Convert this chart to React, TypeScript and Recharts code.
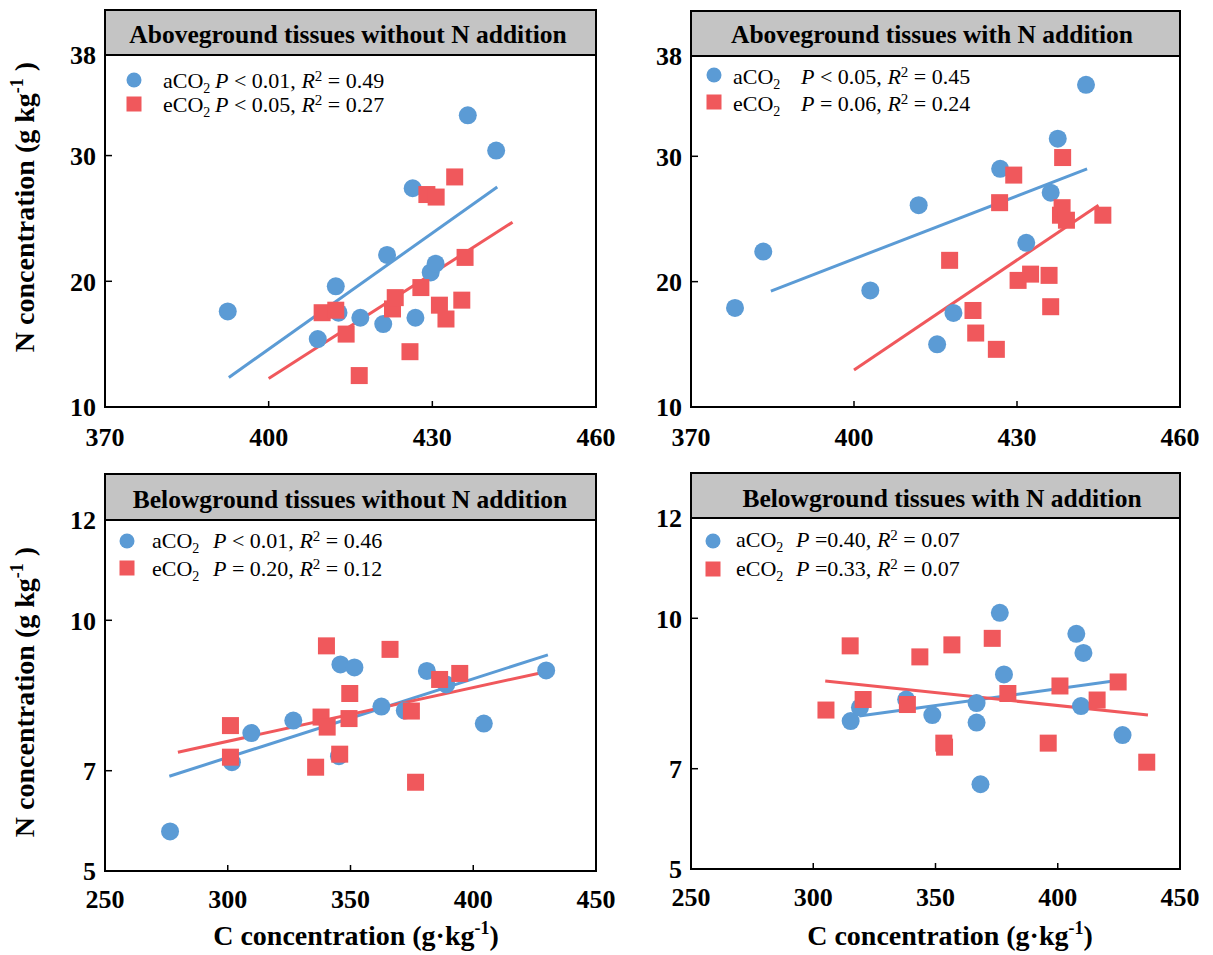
import { ScatterChart, Scatter, XAxis, YAxis, ReferenceLine, ReferenceArea } from "recharts"

const FONT = '"Liberation Serif", "Times New Roman", serif'
const BLUE = "#5B9BD5"
const RED = "#F0585C"

// axis ticks
const aboveTicksC = [370, 400, 430, 460]
const aboveTicksN = [10, 20, 30, 38]
const belowTicksC = [250, 300, 350, 400, 450]
const belowTicksN = [5, 7, 10, 12]

// Aboveground tissues without N addition
const agNoN_aC = [392.5, 409.0, 412.3, 412.8, 416.8, 421.0, 421.7, 426.4, 426.9, 429.7, 430.6, 436.5, 441.7]
const agNoN_aN = [17.6, 15.4, 19.6, 17.5, 17.1, 16.6, 22.1, 27.4, 17.1, 20.7, 21.4, 33.2, 30.4]
const agNoN_eC = [409.8, 412.3, 414.2, 416.6, 422.7, 423.2, 425.9, 427.9, 429.0, 430.7, 431.3, 432.5, 434.1, 435.4, 436.0]
const agNoN_eN = [17.5, 17.7, 15.8, 12.5, 17.8, 18.7, 14.4, 19.5, 26.9, 26.7, 18.1, 17.0, 28.3, 18.5, 21.9]
const agNoN_aFitC = [392.7, 441.9]
const agNoN_aFitN = [12.35, 27.5]
const agNoN_eFitC = [400.0, 444.7]
const agNoN_eFitN = [12.27, 24.7]

// Aboveground tissues with N addition
const agN_aC = [378.1, 383.3, 403.0, 411.9, 415.3, 418.3, 426.9, 431.7, 436.2, 437.5, 442.7]
const agN_aN = [17.9, 22.4, 19.3, 26.1, 15.0, 17.5, 29.0, 23.1, 27.1, 31.4, 35.7]
const agN_eC = [417.6, 421.9, 422.4, 426.2, 426.8, 429.4, 430.2, 432.5, 435.9, 436.2, 438.0, 438.3, 438.4, 439.1, 445.8]
const agN_eN = [21.7, 17.7, 15.9, 14.6, 26.3, 28.5, 20.1, 20.6, 20.5, 18.0, 25.3, 25.9, 29.9, 24.9, 25.3]
const agN_aFitC = [384.7, 442.9]
const agN_aFitN = [19.25, 29.0]
const agN_eFitC = [400.0, 445.0]
const agN_eFitN = [12.96, 26.1]

// Belowground tissues without N addition
const bgNoN_aC = [276.5, 301.7, 309.6, 326.7, 345.3, 345.9, 351.6, 362.6, 372.1, 381.1, 389.0, 404.3, 429.7]
const bgNoN_aN = [5.79, 7.17, 7.75, 8.0, 7.29, 9.12, 9.06, 8.28, 8.2, 8.99, 8.72, 7.94, 9.0]
const bgNoN_eC = [301.1, 301.1, 335.8, 338.0, 340.2, 340.5, 345.6, 349.4, 349.7, 366.1, 374.8, 376.5, 386.3, 394.5]
const bgNoN_eN = [7.9, 7.27, 7.07, 8.07, 9.49, 7.87, 7.33, 8.04, 8.54, 9.42, 8.19, 6.77, 8.82, 8.94]
const bgNoN_aFitC = [276.2, 430.4]
const bgNoN_aFitN = [6.89, 9.31]
const bgNoN_eFitC = [279.7, 431.1]
const bgNoN_eFitN = [7.37, 8.99]

// Belowground tissues with N addition
const bgN_aC = [315.3, 319.1, 338.0, 348.7, 366.8, 366.8, 368.4, 376.3, 378.0, 407.6, 409.5, 410.5, 426.5]
const bgN_aN = [7.95, 8.22, 8.38, 8.07, 8.31, 7.92, 6.69, 10.11, 8.88, 9.69, 8.25, 9.31, 7.67]
const bgN_eC = [305.2, 315.1, 320.4, 338.5, 343.6, 353.4, 353.7, 356.7, 373.2, 379.6, 396.1, 400.9, 416.1, 424.7, 436.4]
const bgN_eN = [8.17, 9.45, 8.38, 8.28, 9.23, 7.51, 7.43, 9.47, 9.6, 8.5, 7.51, 8.65, 8.37, 8.73, 7.13]
const bgN_aFitC = [318.8, 422.8]
const bgN_aFitN = [8.05, 8.75]
const bgN_eFitC = [304.9, 436.9]
const bgN_eFitN = [8.75, 8.07]

const zip = (cs: number[], ns: number[]) => cs.map((c, i) => ({ c, n: ns[i] }))

const circleShape = (p: any) => <circle cx={p.cx} cy={p.cy} r={9} fill={BLUE} />
const squareShape = (p: any) => <rect x={p.cx - 8.5} y={p.cy - 8.5} width={17} height={17} fill={RED} />

const tickStyle = { fill: "#000", fontSize: 26, fontWeight: "bold", fontFamily: FONT }

type PanelProps = {
  left: number; top: number; w: number; h: number; xMargin: number
  cDomain: [number, number]; nDomain: [number, number]
  cTicks: number[]; nTicks: number[]
  aC: number[]; aN: number[]; eC: number[]; eN: number[]
  aFitC: number[]; aFitN: number[]; eFitC: number[]; eFitN: number[]
}

function Panel(p: PanelProps) {
  const YW = 60
  const XH = 50
  const MT = 30
  const MR = 30
  return (
    <div style={{ position: "absolute", left: p.left - YW, top: p.top - MT }}>
      <ScatterChart width={p.w + YW + MR} height={p.h + MT + XH} margin={{ top: MT, right: MR, bottom: 0, left: 0 }}>
        <XAxis
          type="number"
          dataKey="c"
          domain={p.cDomain}
          ticks={p.cTicks}
          interval={0}
          allowDataOverflow
          axisLine={false}
          tickSize={-6}
          tickMargin={p.xMargin}
          tickLine={{ stroke: "#000", strokeWidth: 1.5 }}
          tick={tickStyle}
          height={XH}
        />
        <YAxis
          type="number"
          dataKey="n"
          domain={p.nDomain}
          ticks={p.nTicks}
          interval={0}
          allowDataOverflow
          axisLine={false}
          tickSize={-7}
          tickMargin={16}
          tickLine={{ stroke: "#000", strokeWidth: 1.5 }}
          tick={tickStyle}
          width={YW}
        />
        <ReferenceArea x1={p.cDomain[0]} x2={p.cDomain[1]} y1={p.nDomain[0]} y2={p.nDomain[1]} fill="none" fillOpacity={0} stroke="#000" strokeWidth={2} />
        <ReferenceLine segment={[{ x: p.aFitC[0], y: p.aFitN[0] }, { x: p.aFitC[1], y: p.aFitN[1] }]} stroke={BLUE} strokeWidth={3} />
        <ReferenceLine segment={[{ x: p.eFitC[0], y: p.eFitN[0] }, { x: p.eFitC[1], y: p.eFitN[1] }]} stroke={RED} strokeWidth={3} />
        <Scatter data={zip(p.aC, p.aN)} shape={circleShape} isAnimationActive={false} />
        <Scatter data={zip(p.eC, p.eN)} shape={squareShape} isAnimationActive={false} />
      </ScatterChart>
    </div>
  )
}

function TitleBox({ x, y, w, h, tx, ty, label }: { x: number; y: number; w: number; h: number; tx: number; ty: number; label: string }) {
  return (
    <g>
      <rect x={x} y={y} width={w} height={h} fill="#C4C4C4" stroke="#000" strokeWidth={2} />
      <text x={tx} y={ty} textAnchor="middle" fontSize={25.5} fontWeight="bold" fontFamily={FONT}>{label}</text>
    </g>
  )
}

function LegendRow({ mx, my, tx, px, by, square, stat }: { mx: number; my: number; tx: number; px: number; by: number; square?: boolean; stat: [string, string, string] }) {
  return (
    <g fontFamily={FONT} fontSize={22} fill="#000">
      {square ? <rect x={mx - 7.5} y={my - 7.5} width={15} height={15} fill={RED} /> : <circle cx={mx} cy={my} r={7.5} fill={BLUE} />}
      <text x={tx} y={by}>
        {square ? "eCO" : "aCO"}
        <tspan fontSize={14} dy={5}>2</tspan>
      </text>
      <text x={px} y={by}>
        <tspan fontStyle="italic">P</tspan>
        <tspan>{stat[0]}</tspan>
        <tspan fontStyle="italic">R</tspan>
        <tspan fontSize={15} dy={-7}>2</tspan>
        <tspan dy={7}>{stat[2]}</tspan>
      </text>
    </g>
  )
}

export default function App() {
  return (
    <div style={{ position: "absolute", left: 0, top: 0, width: 1213, height: 955, background: "#fff", fontFamily: FONT }}>
      <Panel left={105} top={55} w={491} h={352} xMargin={27} cDomain={[370, 460]} nDomain={[10, 38]} cTicks={aboveTicksC} nTicks={aboveTicksN}
        aC={agNoN_aC} aN={agNoN_aN} eC={agNoN_eC} eN={agNoN_eN} aFitC={agNoN_aFitC} aFitN={agNoN_aFitN} eFitC={agNoN_eFitC} eFitN={agNoN_eFitN} />
      <Panel left={691} top={56} w={489} h={351} xMargin={27} cDomain={[370, 460]} nDomain={[10, 38]} cTicks={aboveTicksC} nTicks={aboveTicksN}
        aC={agN_aC} aN={agN_aN} eC={agN_eC} eN={agN_eN} aFitC={agN_aFitC} aFitN={agN_aFitN} eFitC={agN_eFitC} eFitN={agN_eFitN} />
      <Panel left={105} top={520} w={491} h={351} xMargin={25} cDomain={[250, 450]} nDomain={[5, 12]} cTicks={belowTicksC} nTicks={belowTicksN}
        aC={bgNoN_aC} aN={bgNoN_aN} eC={bgNoN_eC} eN={bgNoN_eN} aFitC={bgNoN_aFitC} aFitN={bgNoN_aFitN} eFitC={bgNoN_eFitC} eFitN={bgNoN_eFitN} />
      <Panel left={691} top={518} w={489} h={351} xMargin={25} cDomain={[250, 450]} nDomain={[5, 12]} cTicks={belowTicksC} nTicks={belowTicksN}
        aC={bgN_aC} aN={bgN_aN} eC={bgN_eC} eN={bgN_eN} aFitC={bgN_aFitC} aFitN={bgN_aFitN} eFitC={bgN_eFitC} eFitN={bgN_eFitN} />

      <svg width={1213} height={955} style={{ position: "absolute", left: 0, top: 0, pointerEvents: "none" }}>
        <TitleBox x={105} y={10} w={491} h={45} tx={348} ty={43} label="Aboveground tissues without N addition" />
        <TitleBox x={691} y={11} w={489} h={45} tx={932} ty={43} label="Aboveground tissues with N addition" />
        <TitleBox x={105} y={474} w={491} h={46} tx={350} ty={508} label="Belowground tissues without N addition" />
        <TitleBox x={691} y={473} w={489} h={45} tx={942} ty={507} label="Belowground tissues with N addition" />

        <LegendRow mx={134} my={80} tx={163} px={215} by={88} stat={[" < 0.01, ", "2", " = 0.49"]} />
        <LegendRow mx={134} my={104} tx={163} px={215} by={112} square stat={[" < 0.05, ", "2", " = 0.27"]} />
        <LegendRow mx={714} my={75} tx={733} px={801} by={84} stat={[" < 0.05, ", "2", " = 0.45"]} />
        <LegendRow mx={714} my={102} tx={733} px={801} by={111} square stat={[" = 0.06, ", "2", " = 0.24"]} />
        <LegendRow mx={127} my={541} tx={152} px={213} by={548} stat={[" < 0.01, ", "2", " = 0.46"]} />
        <LegendRow mx={127} my={568} tx={152} px={213} by={576} square stat={[" = 0.20, ", "2", " = 0.12"]} />
        <LegendRow mx={713} my={541} tx={736} px={796} by={547} stat={[" =0.40, ", "2", " = 0.07"]} />
        <LegendRow mx={713} my={569} tx={736} px={796} by={576} square stat={[" =0.33, ", "2", " = 0.07"]} />

        <g fontFamily={FONT} fontSize={28} fontWeight="bold" fill="#000">
          <text transform="translate(34,207) rotate(-90)" textAnchor="middle">
            N concentration (g kg<tspan fontSize={18} dy={-11}>-1</tspan><tspan dy={11}> )</tspan>
          </text>
          <text transform="translate(34,692) rotate(-90)" textAnchor="middle">
            N concentration (g kg<tspan fontSize={18} dy={-11}>-1</tspan><tspan dy={11}> )</tspan>
          </text>
          <text x={356} y={945} textAnchor="middle">
            C concentration (g·kg<tspan fontSize={18} dy={-11}>-1</tspan><tspan dy={11}>)</tspan>
          </text>
          <text x={950} y={945} textAnchor="middle">
            C concentration (g·kg<tspan fontSize={18} dy={-11}>-1</tspan><tspan dy={11}>)</tspan>
          </text>
        </g>
      </svg>
    </div>
  )
}
